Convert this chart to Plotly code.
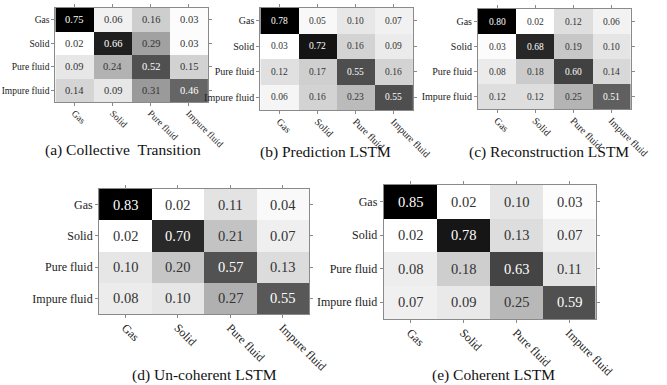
import plotly.graph_objects as go

classes = ["Gas", "Solid", "Pure fluid", "Impure fluid"]

collective_transition = [
    [0.75, 0.06, 0.16, 0.03],
    [0.02, 0.66, 0.29, 0.03],
    [0.09, 0.24, 0.52, 0.15],
    [0.14, 0.09, 0.31, 0.46],
]
prediction_lstm = [
    [0.78, 0.05, 0.10, 0.07],
    [0.03, 0.72, 0.16, 0.09],
    [0.12, 0.17, 0.55, 0.16],
    [0.06, 0.16, 0.23, 0.55],
]
reconstruction_lstm = [
    [0.80, 0.02, 0.12, 0.06],
    [0.03, 0.68, 0.19, 0.10],
    [0.08, 0.18, 0.60, 0.14],
    [0.12, 0.12, 0.25, 0.51],
]
uncoherent_lstm = [
    [0.83, 0.02, 0.11, 0.04],
    [0.02, 0.70, 0.21, 0.07],
    [0.10, 0.20, 0.57, 0.13],
    [0.08, 0.10, 0.27, 0.55],
]
coherent_lstm = [
    [0.85, 0.02, 0.10, 0.03],
    [0.02, 0.78, 0.13, 0.07],
    [0.08, 0.18, 0.63, 0.11],
    [0.07, 0.09, 0.25, 0.59],
]

titles = ["(a) Collective\u00a0\u00a0Transition", "(b) Prediction LSTM", "(c) Reconstruction LSTM",
          "(d) Un-coherent LSTM", "(e) Coherent LSTM"]

W, H = 667, 385
FONT = "Liberation Serif"

# panel layout (pixels): left, right, top, bottom, tick font, cell font, title x, title y
panels = [
    (collective_transition, 57, 214, 8, 102, 9.5, 10.5, 127, 150),
    (prediction_lstm, 268, 425, 8, 110, 10, 9.5, 335, 152),
    (reconstruction_lstm, 492, 649, 9, 109, 10, 9.5, 565, 152),
    (uncoherent_lstm, 102, 318, 189, 314, 12, 14.5, 210, 375),
    (coherent_lstm, 395, 613, 185, 319, 12, 14.5, 508, 375),
]

fig = go.Figure()
annotations = []
layout = {}
for i, (mat, l, r, t, b, tf, cf, tx, ty) in enumerate(panels):
    k = "" if i == 0 else str(i + 1)
    zmin = min(min(row) for row in mat)
    zmax = max(max(row) for row in mat)
    fig.add_trace(go.Heatmap(
        z=mat, x=classes, y=classes, xaxis="x" + k, yaxis="y" + k,
        zmin=zmin, zmax=zmax, colorscale=[[0, "#ffffff"], [1, "#000000"]],
        showscale=False, hoverinfo="skip", xgap=0, ygap=0,
    ))
    axis_common = dict(
        showline=True, linecolor="#8a8a8a", linewidth=1, mirror="allticks",
        ticks="outside", ticklen=3, tickcolor="#8a8a8a", showgrid=False,
        zeroline=False, tickfont=dict(family=FONT, size=tf, color="#222222"),
        fixedrange=True,
    )
    layout["xaxis" + k] = dict(axis_common, domain=[l / W, r / W], anchor="y" + k,
                               tickangle=45, type="category", ticklabelstandoff=-2)
    layout["yaxis" + k] = dict(axis_common, domain=[1 - b / H, 1 - t / H], anchor="x" + k,
                               autorange="reversed", type="category", ticklabelstandoff=0)
    for ri, row in enumerate(mat):
        for ci, v in enumerate(row):
            norm = (v - zmin) / (zmax - zmin)
            annotations.append(dict(
                x=classes[ci], y=classes[ri], xref="x" + k, yref="y" + k,
                text=f"{v:.2f}", showarrow=False,
                font=dict(family=FONT, size=cf, color="#ffffff" if norm > 0.5 else "#333333"),
            ))
    annotations.append(dict(
        x=tx / W, y=1 - ty / H, xref="paper", yref="paper", text=titles[i],
        showarrow=False, xanchor="center", yanchor="middle",
        font=dict(family=FONT, size=15.5, color="#111111"),
    ))

fig.update_layout(
    width=W, height=H, margin=dict(l=0, r=0, t=0, b=0),
    paper_bgcolor="white", plot_bgcolor="white",
    annotations=annotations, showlegend=False, **layout,
)
fig.write_html("out.html", config={"displayModeBar": False},
               post_script="document.body.style.margin='0px';")
